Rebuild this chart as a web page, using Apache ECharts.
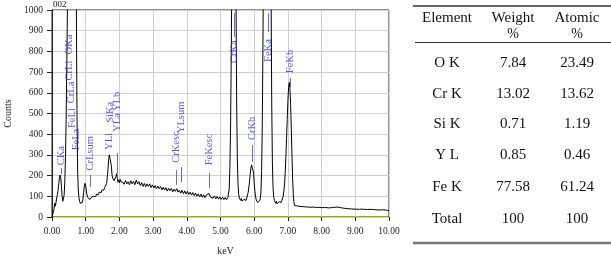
<!DOCTYPE html>
<html>
<head>
<meta charset="utf-8">
<script src="https://cdn.jsdelivr.net/npm/echarts@6/dist/echarts.min.js"></script>
<style>
html,body{margin:0;padding:0;background:#fff;}
#chart{width:611px;height:257px;}
</style>
</head>
<body>
<div id="chart"></div>
<script>
// ---- spectrum data: [keV, counts] ----
const spectrumLow = [
[0.00,0],[0.02,0],[0.04,4],[0.06,38],[0.08,66],[0.10,52],[0.12,72],[0.14,92],[0.16,108],[0.18,128],
[0.20,160],[0.22,188],[0.24,203],[0.26,190],[0.28,148],[0.30,100],[0.32,76],[0.34,80],[0.36,105],[0.38,170],
[0.40,290],[0.42,470],[0.44,740],[0.46,1050],[0.48,1500],[0.50,1900],[0.52,2150],[0.54,2050],[0.56,1950],[0.58,1900],
[0.60,1800],[0.62,1750],[0.64,1700],[0.66,1650],[0.68,1600],[0.70,1450],[0.72,1100],[0.74,520],[0.76,230],[0.78,130],
[0.80,92],[0.82,76],[0.84,66],[0.86,61],[0.88,62],[0.90,70],[0.92,88],[0.94,120],[0.96,150],[0.98,163],
[1.00,150],[1.02,126],[1.04,106],[1.06,96]
];
const spectrumMid = [
[1.10,92],[1.12,84],[1.14,90],[1.16,86],[1.18,97],[1.20,88],[1.22,94],[1.24,100],[1.26,96],[1.28,106],
[1.30,98],[1.32,110],[1.34,104],[1.36,115],[1.38,108],[1.40,120],[1.42,114],[1.44,126],[1.46,118],[1.48,130],
[1.50,124],[1.52,136],[1.54,130],[1.56,142],[1.58,138],[1.60,150],[1.62,162],[1.64,190],[1.66,230],[1.68,275],
[1.70,300],[1.72,308],[1.74,292],[1.76,250],[1.78,205],[1.80,188],[1.82,194],[1.84,176],[1.86,184],[1.88,174],
[1.90,196],[1.92,210],[1.94,186],[1.96,168],[1.98,178],[2.00,165],[2.02,182],[2.04,170],[2.06,164],[2.08,178],
[2.10,168],[2.14,158],[2.18,176],[2.22,160],[2.26,170],[2.30,156],[2.34,175],[2.38,160],[2.42,172],[2.46,156],
[2.50,178],[2.54,160],[2.58,170],[2.62,152],[2.66,166],[2.70,148],[2.74,162],[2.78,146],[2.82,160],[2.86,148],
[2.90,160],[2.94,142],[2.98,155],[3.02,140],[3.06,152],[3.10,136],[3.14,149],[3.18,137],[3.22,147],[3.26,131],
[3.30,144],[3.34,130],[3.38,142],[3.42,125],[3.46,139],[3.50,127],[3.54,138],[3.58,121],[3.62,134],[3.66,124],
[3.70,137],[3.74,120],[3.78,130],[3.82,115],[3.86,129],[3.90,113],[3.94,126],[3.98,111],[4.02,124],[4.06,109],
[4.10,120],[4.14,106],[4.18,118],[4.22,103],[4.26,115],[4.30,101],[4.34,112],[4.38,97],[4.42,110],[4.46,95],
[4.50,107],[4.54,93],[4.58,106],[4.62,98],[4.66,114],[4.70,96],[4.74,105],[4.78,91],[4.82,102],[4.86,88],
[4.90,99],[4.94,86],[4.98,97],[5.02,85],[5.06,96],[5.10,84],[5.14,94],[5.18,83],[5.22,95]
];
const spectrumCrFe = [
[5.24,100],[5.26,140],[5.28,250],[5.30,450],[5.32,800],[5.34,1300],[5.36,1900],[5.38,2400],[5.40,2700],[5.42,2600],
[5.44,2000],[5.46,1050],[5.48,550],[5.50,280],[5.52,160],[5.54,110],[5.56,92],[5.58,86],[5.60,80],[5.62,90],
[5.64,77],[5.66,86],[5.68,76],[5.70,85],[5.72,78],[5.74,88],[5.76,80],[5.78,92],[5.80,100],[5.82,118],
[5.84,140],[5.86,170],[5.88,205],[5.90,235],[5.92,252],[5.94,260],[5.96,248],[5.98,215],[6.00,165],[6.02,125],
[6.04,98],[6.06,84],[6.08,78],[6.10,70],[6.12,78],[6.14,69],[6.16,78],[6.18,88],[6.20,120],[6.22,220],
[6.24,450],[6.26,850],[6.28,1400],[6.30,2200],[6.32,3000],[6.34,3800],[6.36,4400],[6.38,4700],[6.40,4800],[6.42,4600],
[6.44,4000],[6.46,3000],[6.48,1900],[6.50,1100],[6.52,550],[6.54,260],[6.56,140],[6.58,95],[6.60,80],[6.62,72],
[6.64,66],[6.66,76],[6.68,64],[6.70,72],[6.72,63],[6.74,74],[6.76,66],[6.78,76],[6.80,70],[6.82,80],
[6.84,88],[6.86,100],[6.88,125],[6.90,160],[6.92,215],[6.94,290],[6.96,380],[6.98,470],[7.00,560],[7.02,625],
[7.04,650],[7.06,620],[7.08,545],[7.10,430],[7.12,300],[7.14,185],[7.16,110],[7.18,70]
];
const spectrumTail = [
[7.20,55],[7.24,47],[7.28,53],[7.32,44],[7.36,51],[7.40,43],[7.44,50],[7.48,42],[7.52,49],[7.56,41],
[7.60,48],[7.64,40],[7.68,47],[7.72,42],[7.76,48],[7.80,39],[7.84,46],[7.88,40],[7.92,47],[7.96,39],
[8.00,45],[8.04,38],[8.08,46],[8.12,39],[8.16,45],[8.20,37],[8.24,44],[8.28,38],[8.32,46],[8.36,39],
[8.40,47],[8.44,40],[8.48,48],[8.52,39],[8.56,45],[8.60,37],[8.64,43],[8.68,35],[8.72,41],[8.76,34],
[8.80,40],[8.84,33],[8.88,39],[8.92,32],[8.96,38],[9.00,32],[9.04,38],[9.08,31],[9.12,37],[9.16,31],
[9.20,38],[9.24,32],[9.28,37],[9.32,30],[9.36,36],[9.40,30],[9.44,37],[9.48,31],[9.52,36],[9.56,29],
[9.60,35],[9.64,29],[9.68,34],[9.72,28],[9.76,34],[9.80,29],[9.84,35],[9.88,28],[9.92,33],[9.96,27],
[10.00,30]
];

// ---- peak identification labels ----
const lineNames = ['OKa','CrLl','CrLa','FeLl','FeLa','CKa','CrLsum','YLl','SiKa','YLa','YLb','CrKesc','YLsum','FeKesc','CrKa','CrKb','FeKa','FeKb'];
const lineKeV   = [0.525,0.500,0.573,0.615,0.705,0.277,1.146,1.686,1.740,1.922,1.922,3.674,3.844,4.664,5.414,5.946,6.403,7.057];
const lineBase  = [785,660,550,430,322,250,225,324,455,412,512,262,405,250,744,372,749,695];

// ---- marker ticks ----
const markerKeV  = [0.277,1.146,1.922,3.674,3.844,4.664,5.414,5.946,6.403,7.057];
const markerLow  = [208,145,212,155,169,140,870,266,894,628];
const markerHigh = [237,205,309,227,242,212,985,348,985,671];

// ---- axis ticks ----
const xTicks = [0,1,2,3,4,5,6,7,8,9,10];
const yTicks = [0,100,200,300,400,500,600,700,800,900,1000];

// ---- table ----
const tableHeader = ['Element','Weight','Atomic'];
const tableElements = ['O K','Cr K','Si K','Y L','Fe K','Total'];
const tableWeight = ['7.84','13.02','0.71','0.85','77.58','100'];
const tableAtomic = ['23.49','13.62','1.19','0.46','61.24','100'];

const spectrum = spectrumLow.concat(spectrumMid, spectrumCrFe, spectrumTail);
const SERIF = 'Liberation Serif';
const BLUE = '#3030e0';

const colX = [447, 513, 577];
const rowY = [63, 94, 124.5, 155, 187, 219];
const graphics = [];
graphics.push({type:'text', left:53, top:0, style:{text:'002', font:'9px "Liberation Serif"', fill:'#111'}});
graphics.push({type:'line', shape:{x1:413,y1:6,x2:611,y2:6}, style:{stroke:'#666', lineWidth:2}});
graphics.push({type:'line', shape:{x1:415,y1:42.5,x2:611,y2:42.5}, style:{stroke:'#333', lineWidth:1}});
graphics.push({type:'line', shape:{x1:413,y1:243,x2:611,y2:243}, style:{stroke:'#777', lineWidth:2.5}});
tableHeader.forEach((h,i)=>{
  graphics.push({type:'text', x:colX[i], y:18, style:{text:h, font:'15px "Liberation Serif"', fill:'#111', textAlign:'center', textVerticalAlign:'middle'}});
  if(i>0) graphics.push({type:'text', x:colX[i], y:34, style:{text:'%', font:'14px "Liberation Serif"', fill:'#111', textAlign:'center', textVerticalAlign:'middle'}});
});
tableElements.forEach((e,r)=>{
  [e, tableWeight[r], tableAtomic[r]].forEach((t,c)=>{
    graphics.push({type:'text', x:colX[c], y:rowY[r], style:{text:t, font:'15px "Liberation Serif"', fill:'#111', textAlign:'center', textVerticalAlign:'middle'}});
  });
});

const chart = echarts.init(document.getElementById('chart'));
chart.setOption({
  animation:false,
  backgroundColor:'#fff',
  grid:{left:52, right:222, top:10, bottom:40, outerBoundsMode:'none', containLabel:false,
    show:true, borderColor:'#222', borderWidth:1, backgroundColor:'rgba(0,0,0,0)'},
  xAxis:{
    type:'value', min:0, max:10, interval:1,
    name:'keV', nameLocation:'middle', nameGap:29,
    nameTextStyle:{fontFamily:SERIF, fontSize:10, color:'#222', padding:[0,0,0,10]},
    axisLine:{show:true, onZero:false, lineStyle:{color:'#e8e820', width:1}},
    axisTick:{show:true, length:4, lineStyle:{color:'#222'}},
    axisLabel:{fontFamily:SERIF, fontSize:9.5, color:'#222', margin:9, formatter:v=>xTicks.indexOf(v)>=0 ? v.toFixed(2) : ''},
    splitLine:{show:true, lineStyle:{color:'#cfcfcf', width:1}}
  },
  yAxis:{
    type:'value', min:0, max:1000, interval:100,
    name:'Counts', nameLocation:'middle', nameGap:37, nameRotate:90,
    nameTextStyle:{fontFamily:SERIF, fontSize:10, color:'#222'},
    axisLine:{show:true, lineStyle:{color:'#222', width:1}},
    axisTick:{show:true, length:5, lineStyle:{color:'#222'}},
    axisLabel:{fontFamily:SERIF, fontSize:9.5, color:'#222', margin:9, formatter:v=>yTicks.indexOf(v)>=0 ? String(v) : ''},
    splitLine:{show:true, lineStyle:{color:'#cfcfcf', width:1}}
  },
  series:[
    {
      type:'line', data:spectrum, showSymbol:false, symbol:'none', clip:true,
      lineStyle:{color:'#000', width:1}, z:3, silent:true
    },
    {
      type:'scatter', symbolSize:0, z:4, silent:true, clip:false,
      data:lineNames.map((n,i)=>({value:[lineKeV[i], lineBase[i]], name:n})),
      label:{show:true, position:'inside', formatter:p=>p.name, rotate:90, align:'left', verticalAlign:'middle',
        fontFamily:SERIF, fontSize:10.5, color:BLUE},
      markLine:{
        silent:true, symbol:['none','none'], label:{show:false}, animation:false,
        lineStyle:{color:'#6a6ae0', width:1, type:'solid'},
        data:markerKeV.map((k,i)=>[{coord:[k, markerLow[i]]},{coord:[k, markerHigh[i]]}])
      }
    }
  ],
  graphic:graphics
});
</script>
</body>
</html>
